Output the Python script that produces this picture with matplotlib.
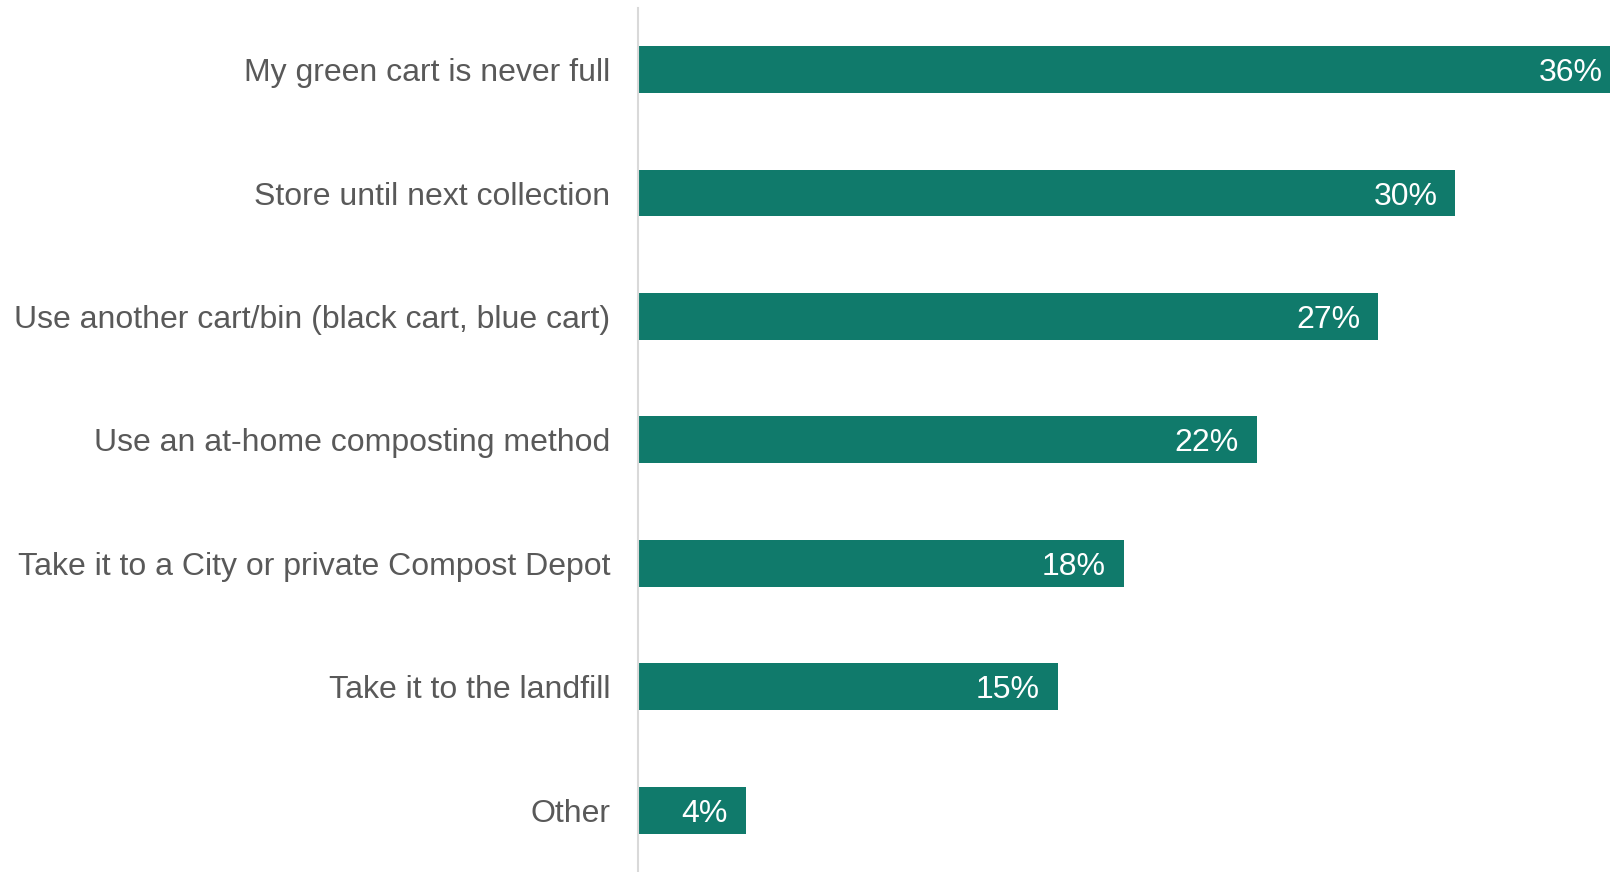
import matplotlib
matplotlib.use("Agg")
import matplotlib.pyplot as plt

categories = ["My green cart is never full",
              "Store until next collection",
              "Use another cart/bin (black cart, blue cart)",
              "Use an at-home composting method",
              "Take it to a City or private Compost Depot",
              "Take it to the landfill",
              "Other"]
# percentages (labels are rounded)
values = [35.6, 29.6, 26.8, 22.4, 17.6, 15.2, 3.9]

bar_color = "#107A6B"
text_color = "#595959"

plt.rcParams['font.family'] = ['Liberation Sans', 'DejaVu Sans']

fig = plt.figure(figsize=(16.1, 8.72), dpi=100)
ax = fig.add_axes([0.3963, 0.0, 0.6037, 0.991])

pos = list(range(len(categories)))
ax.barh(pos, values, height=0.38, color=bar_color, zorder=2)

for y, v in zip(pos, values):
    ax.annotate(f"{v:.0f}%", (v, y), xytext=(-18, 0), textcoords="offset pixels",
                ha="right", va="center_baseline", color="white", fontsize=23,
                annotation_clip=False)

ax.set_xlim(0, 35.2)
ax.set_ylim(6.5, -0.5)
ax.set_yticks(pos)
ax.set_yticklabels(categories, fontsize=23, color=text_color)
ax.tick_params(axis="y", length=0, pad=20)
ax.set_xticks([])
for s in ["top", "right", "bottom"]:
    ax.spines[s].set_visible(False)
ax.spines["left"].set_color("#D9D9D9")
ax.spines["left"].set_linewidth(1.5)

fig.savefig("out.png", dpi=100)
